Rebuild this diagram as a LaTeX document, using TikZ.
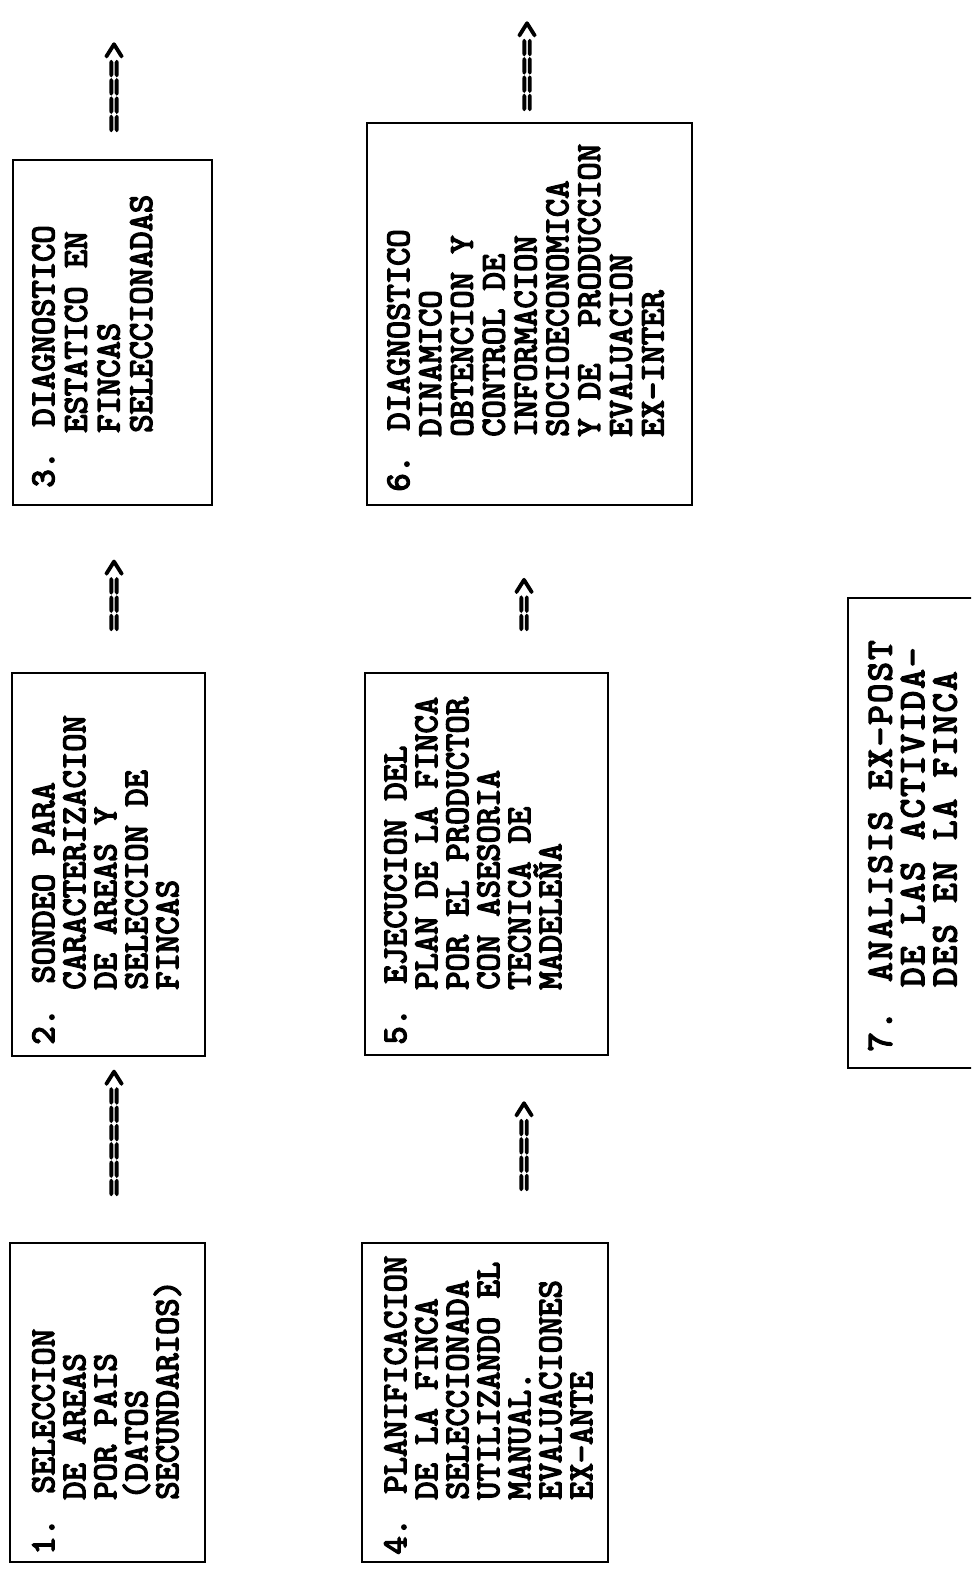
\documentclass[tikz,border=0pt]{standalone}
\usepackage{fontspec}
\newfontfamily\typew{lmmono10-regular.otf}[FakeBold=4]
\newfontfamily\typewide{lmmono10-regular.otf}[FakeBold=4, LetterSpace=5.9]
\newcommand\ind{\hspace*{1.575em}}
\newcommand\indw{\hspace*{32.4pt}}
\tikzset{
  box/.style={draw, line width=1.4pt, inner sep=0pt, outer sep=0pt},
  txt/.style={rotate=90, anchor=north west, inner sep=0pt, align=left,
    font=\typew\bfseries\fontsize{17.43}{15.5}\selectfont},
  arr/.style={rotate=90, anchor=west, inner sep=0pt,
    font=\typew\bfseries\fontsize{17.43}{15.5}\selectfont},
}
\begin{document}
\begin{tikzpicture}[x=0.5pt,y=-0.5pt]
\path[use as bounding box] (0,0) rectangle (971,1572);
\clip (0,0) rectangle (971,1572);
% boxes
\node[box, minimum width=97.5pt, minimum height=159.5pt] (b1) at (107.5,1402.5) {};
\node[box, minimum width=96.5pt, minimum height=191.5pt] (b2) at (108.5,864.5) {};
\node[box, minimum width=99.5pt, minimum height=172.5pt] (b3) at (112.5,332.5) {};
\node[box, minimum width=123pt, minimum height=159.5pt] (b4) at (485,1402.5) {};
\node[box, minimum width=121.5pt, minimum height=191pt] (b5) at (486.5,864) {};
\node[box, minimum width=162.5pt, minimum height=191pt] (b6) at (529.5,314) {};
\node[box, minimum width=76pt, minimum height=235pt] (b7) at (924,833) {};
% texts
\node[txt] (t1) at (32,1555) {1. SELECCION\\\ind DE AREAS\\\ind POR PAIS\\\ind (DATOS\\\ind SECUNDARIOS)};
\node[txt] (t2) at (32,1045) {2. SONDEO PARA\\\ind CARACTERIZACION\\\ind DE AREAS Y\\\ind SELECCION DE\\\ind FINCAS};
\node[txt, font=\typew\bfseries\fontsize{17.43}{16.3}\selectfont] (t3) at (32,488) {3. DIAGNOSTICO\\\ind ESTATICO EN\\\ind FINCAS\\\ind SELECCIONADAS};
\node[txt] (t4) at (384,1555) {4. PLANIFICACION\\\ind DE LA FINCA\\\ind SELECCIONADA\\\ind UTILIZANDO EL\\\ind MANUAL.\\\ind EVALUACIONES\\\ind EX-ANTE};
\node[txt] (t5) at (384,1045) {5. EJECUCION DEL\\\ind PLAN DE LA FINCA\\\ind POR EL PRODUCTOR\\\ind CON ASESORIA\\\ind TECNICA DE\\\ind MADELEÑA};
\node[txt, font=\typew\bfseries\fontsize{17.43}{15.9}\selectfont] (t6) at (387,492) {6. DIAGNOSTICO\\\ind DINAMICO\\\ind OBTENCION Y\\\ind CONTROL DE\\\ind INFORMACION\\\ind SOCIOECONOMICA\\\ind Y DE\ \ PRODUCCION\\\ind EVALUACION\\\ind EX-INTER};
\node[txt, font=\typewide\bfseries\fontsize{18.5}{16.2}\selectfont] (t7) at (868,1052) {7. ANALISIS EX-POST\\\indw DE LAS ACTIVIDA-\\\indw DES EN LA FINCA};
% typed arrows
\node[arr] (a12) at (115,1197) {======>};
\node[arr] (a23) at (115,632) {===>};
\node[arr] (a3x) at (115,133) {====>};
\node[arr] (a45) at (525,1192) {====>};
\node[arr] (a56) at (525,632) {==>};
\node[arr] (a6x) at (528,112) {====>};
\end{tikzpicture}
\end{document}
